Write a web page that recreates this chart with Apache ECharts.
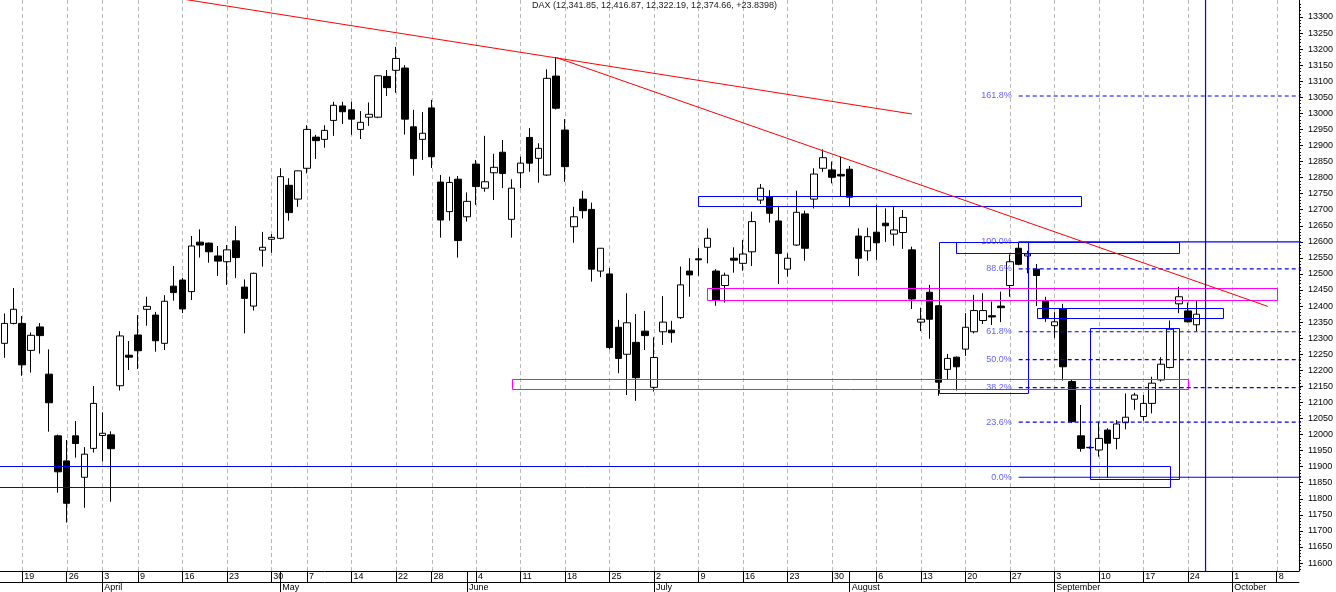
<!DOCTYPE html>
<html><head><meta charset="utf-8">
<script src="https://cdn.jsdelivr.net/npm/echarts@6/dist/echarts.min.js"></script>
<style>html,body{margin:0;padding:0;background:#fff;overflow:hidden}#c{width:1336px;height:592px}</style>
</head><body><div id="c"></div><script>
// ---- data ----
const titleText = 'DAX (12,341.85, 12,416.87, 12,322.19, 12,374.66, +23.8398)';
const dates = [
'03-15','03-16','03-19','03-20','03-21','03-22','03-23','03-26','03-27','03-28','03-29',
'04-03','04-04','04-05','04-06','04-09','04-10','04-11','04-12','04-13','04-16','04-17','04-18','04-19','04-20','04-23','04-24','04-25','04-26','04-27','04-30',
'05-02','05-03','05-04','05-07','05-08','05-09','05-10','05-11','05-14','05-15','05-16','05-17','05-18','05-22','05-23','05-24','05-25','05-28','05-29','05-30','05-31',
'06-01','06-04','06-05','06-06','06-07','06-08','06-11','06-12','06-13','06-14','06-15','06-18','06-19','06-20','06-21','06-22','06-25','06-26','06-27','06-28','06-29',
'07-02','07-03','07-04','07-05','07-06','07-09','07-10','07-11','07-12','07-13','07-16','07-17','07-18','07-19','07-20','07-23','07-24','07-25','07-26','07-27','07-30','07-31',
'08-01','08-02','08-03','08-06','08-07','08-08','08-09','08-10','08-13','08-14','08-15','08-16','08-17','08-20','08-21','08-22','08-23','08-24','08-27','08-28','08-29','08-30','08-31',
'09-03','09-04','09-05','09-06','09-07','09-10','09-11','09-12','09-13','09-14','09-17','09-18','09-19','09-20','09-21','09-24','09-25','09-26','09-27','09-28',
'10-01','10-02','10-03','10-04','10-05','10-08','10-09','10-10'];
const monthNames = {'03':'March','04':'April','05':'May','06':'June','07':'July','08':'August','09':'September','10':'October'};
// [open, high, low, close]
const ohlc = [
[12284,12377,12239,12346],[12346,12456,12343,12390],[12346,12369,12183,12217],[12262,12318,12193,12309],[12335,12347,12252,12308],
[12188,12265,12009,12099],[11996,12000,11819,11884],[11918,11983,11726,11786],[11996,12042,11928,11972],[11867,11961,11772,11939],
[11957,12151,11944,12097],[11997,12069,11916,12004],[11999,12010,11791,11956],[12152,12322,12137,12307],[12247,12291,12201,12241],
[12310,12372,12204,12261],[12390,12429,12339,12399],[12372,12382,12258,12292],[12284,12434,12263,12415],[12462,12525,12417,12442],
[12481,12488,12378,12391],[12445,12618,12419,12587],[12599,12639,12551,12590],[12596,12598,12535,12569],[12556,12587,12494,12540],
[12538,12590,12466,12575],[12603,12649,12487,12551],[12459,12483,12315,12424],[12400,12504,12386,12502],[12574,12631,12523,12583],
[12608,12624,12566,12614],[12611,12829,12608,12803],[12776,12798,12666,12691],[12733,12822,12709,12821],[12829,12963,12813,12950],
[12926,12933,12858,12915],[12919,12963,12893,12947],[12978,13036,12930,13025],[13023,13036,12967,13005],[13011,13036,12933,12982],
[12950,13007,12920,12972],[12988,13034,12961,12997],[12988,13119,12985,13117],[13115,13135,13054,13080],[13134,13207,13064,13171],
[13141,13150,12934,12982],[12958,13011,12806,12859],[12919,13004,12855,12938],[13017,13042,12830,12865],[12786,12808,12613,12668],
[12694,12803,12666,12785],[12795,12805,12551,12604],[12678,12754,12663,12726],[12842,12855,12715,12772],[12767,12930,12756,12787],
[12815,12874,12730,12832],[12879,12917,12767,12813],[12670,12795,12613,12767],[12815,12865,12767,12845],[12925,12954,12818,12845],
[12860,12907,12784,12891],[12808,13137,12805,13109],[13116,13175,13012,13016],[12948,12982,12787,12834],[12647,12709,12597,12678],
[12733,12759,12673,12697],[12701,12722,12476,12515],[12509,12580,12490,12580],[12500,12518,12265,12271],[12334,12357,12191,12237],
[12250,12440,12123,12348],[12287,12375,12105,12177],[12322,12385,12263,12308],[12147,12303,12134,12240],[12320,12431,12279,12350],
[12325,12354,12286,12317],[12364,12523,12360,12466],[12509,12549,12429,12497],[12547,12580,12494,12544],[12583,12642,12533,12611],
[12509,12515,12401,12419],[12464,12504,12411,12496],[12549,12583,12504,12543],[12533,12606,12510,12562],[12569,12694,12525,12663],
[12730,12780,12718,12767],[12741,12761,12660,12689],[12665,12712,12469,12564],[12515,12564,12492,12549],[12590,12759,12587,12692],
[12687,12697,12541,12580],[12733,12829,12704,12811],[12829,12888,12818,12862],[12824,12850,12782,12801],[12810,12865,12741,12805],
[12826,12836,12709,12739],[12618,12642,12494,12549],[12572,12644,12541,12616],[12630,12715,12544,12597],[12658,12704,12600,12650],
[12624,12708,12588,12637],[12629,12699,12578,12676],[12575,12585,12391,12422],[12350,12395,12322,12359],[12443,12466,12298,12359],
[12401,12403,12121,12163],[12203,12251,12172,12237],[12241,12243,12137,12211],[12266,12378,12245,12334],[12320,12435,12315,12386],
[12355,12440,12344,12386],[12370,12414,12341,12366],[12400,12445,12350,12395],[12464,12561,12429,12538],[12580,12600,12527,12530],
[12556,12572,12502,12562],[12515,12531,12400,12495],[12416,12429,12351,12364],[12339,12381,12300,12351],[12391,12407,12168,12211],
[12165,12170,12036,12040],[11996,12092,11947,11957],[11960,11963,11956,11959],[11952,12040,11931,11988],[12014,12020,11866,11973],
[11988,12045,11954,12033],[12037,12128,12016,12054],[12110,12130,12077,12123],[12056,12123,12043,12097],[12097,12180,12066,12160],
[12170,12241,12165,12219],[12209,12355,12206,12328],[12407,12460,12378,12429],[12385,12411,12349,12351],[12341.85,12416.87,12322.19,12374.66]
];
const yLabels = [11600,11650,11700,11750,11800,11850,11900,11950,12000,12050,12100,12150,12200,12250,12300,12350,12400,12450,12500,12550,12600,12650,12700,12750,12800,12850,12900,12950,13000,13050,13100,13150,13200,13250,13300];
// trend lines: [date, value] -> [date, value]
const trendLines = [
  [['04-16',13356],['08-10',12998]],
  [['06-15',13174],['10-05',12399]]
];
// boxes: [startDate, value1, endDate, value2]
const blueBoxes = [
  ['START',11902,'09-20',11838],
  ['07-09',12742,'09-06',12711],
  ['08-30',12393,'09-28',12362],
  ['08-17',12599,'09-21',12564],
  ['08-15',12599,'08-29',12129],
  ['09-07',12331,'09-21',11861]
];
const magentaBoxes = [
  ['07-10',12455,'10-08',12418],
  ['06-08',12172,'09-24',12143]
];
const fibStart = '08-28';
const fibLevels = [
  ['161.8%',13054,'dash'],['100.0%',12600,'solid'],['88.6%',12516,'dash'],['61.8%',12320,'dash'],
  ['50.0%',12233,'dash'],['38.2%',12146,'dash'],['23.6%',12039,'dash'],['0.0%',11867,'solid']
];
const markerDate = '09-26';

// ---- layout helpers ----
const YMIN = 11575.2, YMAX = 13352.9;
const N = dates.length;
const minorTicks = [];
for (let v = 11580; v <= 13350; v += 10) if (v % 50 !== 0) minorTicks.push(v);
const wd = d => new Date(2018, +d.slice(0,2)-1, +d.slice(3)).getDay();
const isWeekStart = dates.map((d,i) => i>0 && wd(d) <= wd(dates[i-1]));
const isMonthStart = dates.map((d,i) => i>0 && d.slice(0,2) !== dates[i-1].slice(0,2));
const xi = d => d === 'START' ? -1 : d === 'END' ? N+1 : dates.indexOf(d) + 0.5;
const gridX = dates.map((d,i)=> isWeekStart[i] ? [i+0.5] : null).filter(Boolean);

const chart = echarts.init(document.getElementById('c'), null, {renderer:'canvas'});
const FONT = 'Arial, "Liberation Sans", sans-serif';

function boxSeries(boxes, color){
  return {
    type:'custom', xAxisIndex:1, yAxisIndex:0, z:5, silent:true, clip:true,
    data: boxes.map(b => [xi(b[0]), b[1], xi(b[2]), b[3]]),
    renderItem:(p, api) => {
      const a = api.coord([api.value(0), api.value(1)]);
      const b = api.coord([api.value(2), api.value(3)]);
      const x1 = Math.round(Math.min(a[0],b[0]))+0.5, x2 = Math.round(Math.max(a[0],b[0]))+0.5;
      const y1 = Math.round(Math.min(a[1],b[1]))+0.5, y2 = Math.round(Math.max(a[1],b[1]))+0.5;
      return {type:'rect', shape:{x:x1, y:y1, width:x2-x1, height:y2-y1},
        style:{fill:null, stroke:color, lineWidth:1}};
    }
  };
}

const series = [
  { // vertical dashed grid lines at week starts
    type:'custom', xAxisIndex:1, yAxisIndex:0, z:1, silent:true,
    data: gridX,
    renderItem:(p, api) => {
      const x = Math.round(api.coord([api.value(0), YMAX])[0]) + 0.5;
      const cs = p.coordSys;
      return {type:'line', shape:{x1:x, y1:cs.y, x2:x, y2:cs.y+cs.height},
        style:{stroke:'#b8b8b8', lineWidth:1, lineDash:[4,3]}};
    }
  },
  {
    type:'candlestick', xAxisIndex:0, yAxisIndex:0, z:3, barWidth:7, silent:true,
    data: ohlc.map(r => [r[0], r[3], r[2], r[1]]),
    itemStyle:{color:'#ffffff', color0:'#000000', borderColor:'#000000', borderColor0:'#000000', borderWidth:1}
  },
  boxSeries(blueBoxes, '#0000ff'),
  boxSeries(magentaBoxes, '#ff00ff')
];
trendLines.forEach(t => series.push({
  type:'line', xAxisIndex:1, yAxisIndex:0, z:6, silent:true, symbol:'none', clip:true,
  data: t.map(p => [xi(p[0]), p[1]]),
  lineStyle:{color:'#ff0000', width:1}
}));
fibLevels.forEach(f => series.push({
  type:'line', xAxisIndex:1, yAxisIndex:0, z:5, silent:true, symbol:'none', clip:true,
  data: [[xi(fibStart), f[1]], [xi('END'), f[1]]],
  lineStyle:{color:'#0000ff', width:1.2, type: f[2]==='dash' ? [4,3] : 'solid'}
}));
series.push({
  type:'scatter', xAxisIndex:1, yAxisIndex:0, z:6, silent:true, symbolSize:0,
  data: fibLevels.map(f => ({value:[xi(fibStart), f[1]], name:f[0]})),
  label:{show:true, position:'left', distance:7, formatter: p => p.name,
    color:'#3a3aff', fontSize:9, fontFamily:FONT}
});
series.push({ // vertical blue marker line
  type:'line', xAxisIndex:1, yAxisIndex:0, z:6, silent:true, symbol:'none',
  data: [[xi(markerDate), YMIN], [xi(markerDate), YMAX]],
  lineStyle:{color:'#0000ff', width:1.2}
});

chart.setOption({
  animation:false,
  backgroundColor:'#ffffff',
  title:{text:titleText, left:532, top:1, padding:0,
    textStyle:{fontSize:9, fontWeight:'normal', color:'#222', fontFamily:FONT}},
  grid:{left:0, right:36, top:0, bottom:21, containLabel:false},
  xAxis:[
    {type:'category', data:dates, gridIndex:0, position:'bottom', boundaryGap:true,
      axisLine:{show:true, onZero:false, lineStyle:{color:'#000', width:1}},
      axisTick:{show:true, alignWithLabel:true, length:11, interval:(i)=>isWeekStart[i]||isMonthStart[i], lineStyle:{color:'#000'}},
      axisLabel:{show:true, interval:(i)=>isWeekStart[i], formatter:v=>String(+v.slice(3)), align:'left', margin:1,
        padding:[0,0,0,2], fontSize:9, fontFamily:FONT, color:'#000'},
      splitLine:{show:false}},
    {type:'value', gridIndex:0, position:'top', min:0, max:N, show:false, axisLine:{onZero:false}},
    {type:'category', data:dates, gridIndex:0, position:'bottom', offset:11, boundaryGap:true,
      axisLine:{show:true, onZero:false, lineStyle:{color:'#000', width:1}},
      axisTick:{show:true, alignWithLabel:true, length:10, interval:(i)=>isMonthStart[i], lineStyle:{color:'#000'}},
      axisLabel:{show:true, interval:(i)=>isMonthStart[i], formatter:v=>monthNames[v.slice(0,2)], align:'left', margin:1,
        padding:[0,0,0,2], fontSize:9, fontFamily:FONT, color:'#000'},
      splitLine:{show:false}}
  ],
  yAxis:[
    {type:'value', gridIndex:0, position:'right', min:YMIN, max:YMAX,
      axisLine:{show:true, onZero:false, lineStyle:{color:'#000', width:1}},
      axisTick:{show:true, length:4, customValues:yLabels, lineStyle:{color:'#000'}},
      axisLabel:{show:true, customValues:yLabels, formatter:v=>String(v), margin:9, fontSize:9, fontFamily:FONT, color:'#000'},
      splitLine:{show:false}},
    {type:'value', gridIndex:0, position:'right', min:YMIN, max:YMAX,
      axisLine:{show:false, onZero:false},
      axisTick:{show:true, length:2, customValues:minorTicks, lineStyle:{color:'#000'}},
      axisLabel:{show:false},
      splitLine:{show:false}}
  ],
  series: series
});
</script></body></html>
